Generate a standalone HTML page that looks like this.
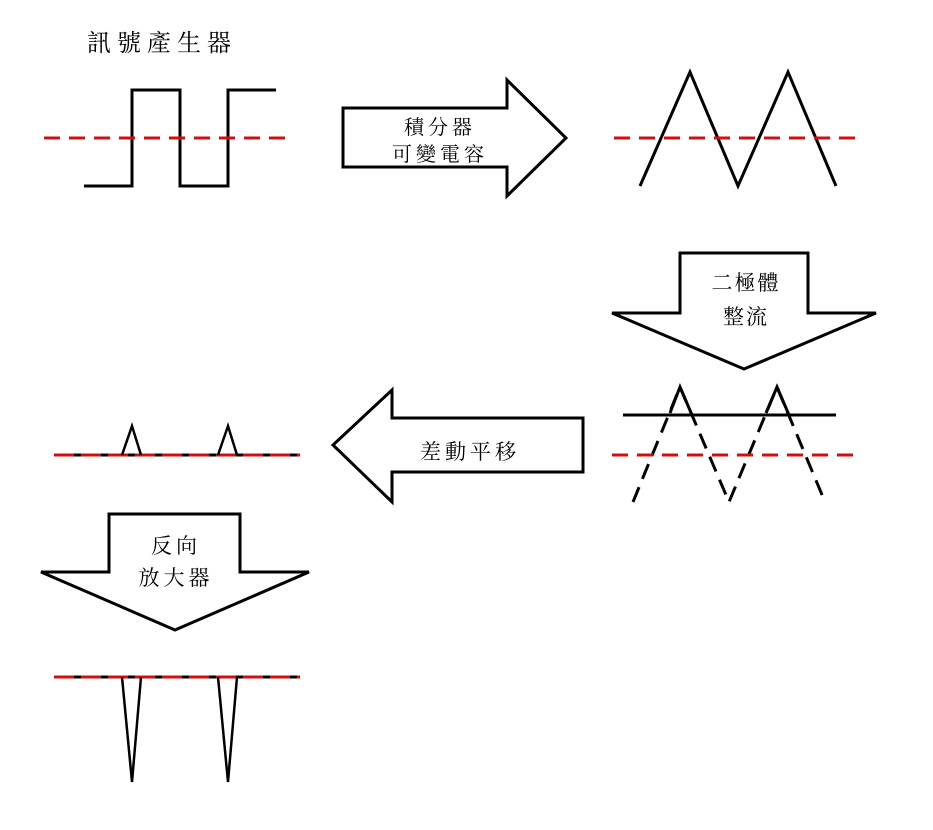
<!DOCTYPE html>
<html><head><meta charset="utf-8"><style>
html,body{margin:0;padding:0;background:#fff;}
svg text{font-family:"Liberation Serif","Noto Serif CJK SC","Noto Sans CJK TC",serif;fill:#000;}
</style></head><body>
<svg width="933" height="825" viewBox="0 0 933 825" xmlns="http://www.w3.org/2000/svg">
<g fill="none" stroke-width="3">
<!-- square wave -->
<polyline stroke="#000" points="84,186 132,186 132,90 180,90 180,186 228,186 228,90 276,90"/>
<line stroke="#d01010" stroke-dasharray="16,9" x1="44" y1="138" x2="290" y2="138"/>
<!-- arrow 1 -->
<polygon stroke="#000" fill="#fff" points="343,108 507,108 507,80 566,138 507,196 507,167 343,167"/>
<!-- triangle wave -->
<polyline stroke="#000" points="640,186 690,72 738,186 788,72 836,186"/>
<line stroke="#d01010" stroke-dasharray="16,9" x1="614" y1="138" x2="860" y2="138"/>
<!-- arrow 2 -->
<polygon stroke="#000" fill="#fff" points="680,253 808,253 808,313 876,313 744,369 612,313 680,313"/>
<!-- rectified -->
<polyline stroke="#000" stroke-dasharray="16,9" points="633,502 680,387 729,502 777,387 825,502"/>
<polyline stroke="#000" points="670,413 680,387 692,415"/>
<polyline stroke="#000" points="766,413 777,387 789,415"/>
<line stroke="#000" x1="623" y1="415" x2="836" y2="415"/>
<line stroke="#d01010" stroke-dasharray="16,9" x1="612" y1="455" x2="858" y2="455"/>
<!-- arrow 3 -->
<polygon stroke="#000" fill="#fff" points="583,418 392,418 392,390 333,445 392,502 392,472 583,472"/>
<!-- pulses -->
<line stroke="#000" x1="54" y1="455" x2="300" y2="455"/>
<line stroke="#d01010" stroke-dasharray="20,7" x1="54" y1="455" x2="300" y2="455"/>
<polyline stroke="#000" stroke-width="2.5" points="122,455 132,426 141,455"/>
<polyline stroke="#000" stroke-width="2.5" points="218,455 228,426 237,455"/>
<!-- arrow 4 -->
<polygon stroke="#000" fill="#fff" points="109,514 240,514 240,572 309,572 175,630 41,572 109,572"/>
<!-- neg spikes -->
<line stroke="#000" x1="54" y1="677" x2="300" y2="677"/>
<line stroke="#d01010" stroke-dasharray="20,7" x1="54" y1="677" x2="300" y2="677"/>
<polyline stroke="#000" stroke-width="2.5" points="122,677 132,782 141,677"/>
<polyline stroke="#000" stroke-width="2.5" points="218,677 228,782 237,677"/>
</g>
<text x="162" y="51" font-size="24" text-anchor="middle" letter-spacing="6">訊號產生器</text>
<text x="440" y="134" font-size="20" text-anchor="middle" letter-spacing="4">積分器</text>
<text x="440" y="161" font-size="20" text-anchor="middle" letter-spacing="4">可變電容</text>
<text x="746" y="290" font-size="21" text-anchor="middle" letter-spacing="2">二極體</text>
<text x="746" y="324" font-size="21" text-anchor="middle" letter-spacing="2">整流</text>
<text x="470" y="459" font-size="21" text-anchor="middle" letter-spacing="4">差動平移</text>
<text x="176" y="553" font-size="21" text-anchor="middle" letter-spacing="4">反向</text>
<text x="176" y="585" font-size="21" text-anchor="middle" letter-spacing="4">放大器</text>
</svg>
</body></html>
